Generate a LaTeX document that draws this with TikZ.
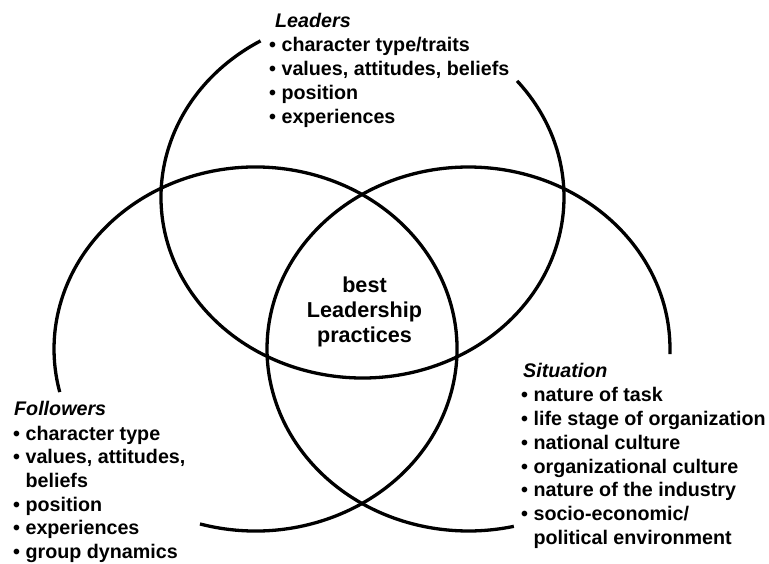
\documentclass[tikz,border=0pt]{standalone}
\usepackage{fontspec}
\setmainfont{Liberation Sans}
\tikzset{
  ring/.style={line width=3.3pt},
  heading/.style={anchor=base west, inner sep=0pt, font=\fontsize{19.7}{24}\selectfont\bfseries\itshape},
  items/.style={anchor=base west, inner sep=0pt, font=\fontsize{19.7}{23.7}\selectfont\bfseries},
  core/.style={anchor=base, inner sep=0pt, font=\fontsize{21.6}{25}\selectfont\bfseries}
}
\newcommand{\blist}[2]{\parbox[t]{#1}{\raggedright #2}}
\begin{document}
\begin{tikzpicture}[x=1pt,y=1pt]
\useasboundingbox (0,0) rectangle (769,563);
\coordinate (L) at (362.5,366);
\coordinate (F) at (255.5,214);
\coordinate (S) at (468.5,214);
% rings with gaps
\draw[ring] ([shift={(120.4:201.5pt and 181pt)}]L) arc[start angle=120.4, end angle=399.9, x radius=201.5pt, y radius=181pt];
\draw[ring] ([shift={(254:201.5pt and 182pt)}]F) arc[start angle=254, end angle=553.7, x radius=201.5pt, y radius=182pt];
\draw[ring] ([shift={(-1.6:201.5pt and 182pt)}]S) arc[start angle=-1.6, end angle=283, x radius=201.5pt, y radius=182pt];
% Leaders
\node[heading] (lt) at (275,535) {Leaders};
\node[items] (ll) at (269,511) {\blist{300pt}{• character type/traits\\
• values, attitudes, beliefs\\
• position\\
• experiences}};
% Followers
\node[heading] (ft) at (14,147) {Followers};
\node[items] (fl) at (13,123) {\blist{250pt}{• character type\\
• values, attitudes,\\
\phantom{• }beliefs\\
• position\\
• experiences\\
• group dynamics}};
% Situation
\node[heading] (st) at (523,185) {Situation};
\node[items] (sl) at (521,161) {\blist{260pt}{• nature of task\\
• life stage of organization\\
• national culture\\
• organizational culture\\
• nature of the industry\\
• socio-economic/\\
\phantom{• }political environment}};
% Centre
\node[core] (c) at (364.5,270) {\parbox[t]{150pt}{\centering best\\ Leadership\\ practices}};
\end{tikzpicture}
\end{document}
